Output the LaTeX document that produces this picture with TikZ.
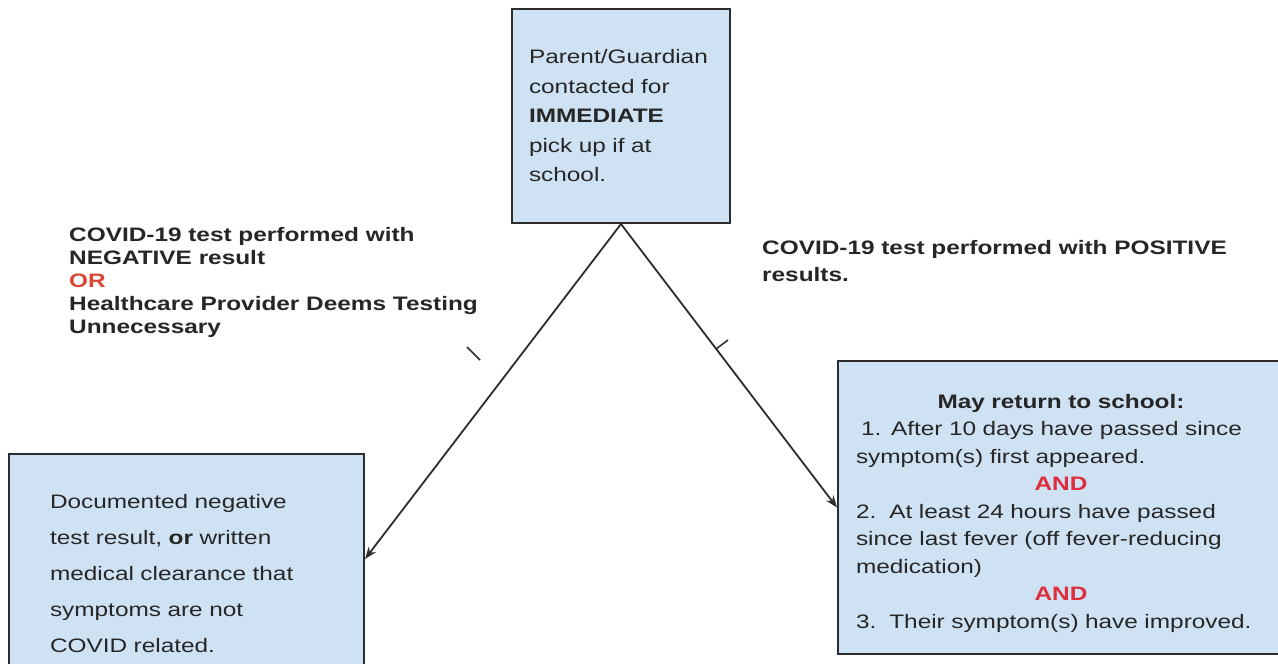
\documentclass[tikz,border=0pt]{standalone}
\usepackage{fontspec}
\setmainfont{Liberation Sans}[FakeStretch=1.25]
\usetikzlibrary{arrows.meta}
\definecolor{boxblue}{RGB}{207,226,243}
\definecolor{boxline}{RGB}{45,45,45}
\definecolor{ink}{RGB}{38,38,38}
\definecolor{orred}{RGB}{214,72,52}
\definecolor{andred}{RGB}{222,45,60}
\newcommand{\ctrline}[1]{\hspace*{\fill}#1\hspace*{\fill}\null}
\tikzset{
  box/.style={draw=boxline, line width=2pt, fill=boxblue, rectangle, anchor=north west, align=left, text=ink, font=\fontsize{19.5}{29.5}\selectfont},
  lbl/.style={anchor=north west, align=left, inner sep=0pt, text=ink, font=\bfseries\fontsize{19.5}{23}\selectfont},
  arr/.style={draw=boxline, line width=1.8pt, -{Stealth[length=12pt,width=9pt]}},
  stray/.style={draw=boxline, line width=1.5pt}
}
\begin{document}
\begin{tikzpicture}[x=1pt, y=-1pt]
    \useasboundingbox (0,0) rectangle (1278,664);
    \fill[white] (0,0) rectangle (1278,664);
    \clip (0,0) rectangle (1278,664);

    \node[box, text width=184pt, inner xsep=17pt, minimum height=214pt] (parent) at (511,8) {Parent/Guardian\\contacted for\\\textbf{IMMEDIATE}\\pick up if at\\school.};
    \node[box, text width=273pt, inner xsep=41pt, minimum height=240pt, font=\fontsize{19.5}{36}\selectfont] (negbox) at (8,453) {Documented negative\\test result, \textbf{or} written\\medical clearance that\\symptoms are not\\COVID related.};
    \node[box, text width=410pt, inner xsep=18pt, minimum height=293pt, font=\fontsize{19.5}{27.5}\selectfont] (posbox) at (837,360) {\ctrline{\rule{0pt}{26pt}\textbf{May return to school:}}\\
      \hspace*{5pt}1. After 10 days have passed since\\
      symptom(s) first appeared.\\
      \ctrline{\textcolor{andred}{\textbf{AND}}}\\
      2.\ \ At least 24 hours have passed\\
      since last fever (off fever-reducing\\
      medication)\\
      \ctrline{\textcolor{andred}{\textbf{AND}}}\\
      3.\ \ Their symptom(s) have improved.};

    \node[lbl] (neglbl) at (69,227) {COVID-19 test performed with\\NEGATIVE result\\\textcolor{orred}{OR}\\Healthcare Provider Deems Testing\\Unnecessary};
    \node[lbl, font=\bfseries\fontsize{19.5}{27}\selectfont] (poslbl) at (762,240) {COVID-19 test performed with POSITIVE\\results.};

    \draw[arr] (parent.south) -- ([yshift=15pt]negbox.east);
    \draw[arr] (parent.south) -- (posbox.west);
    \draw[stray] (467,347) -- (480,360);
    \draw[stray] (716,349) -- (728,340);
\end{tikzpicture}
\end{document}
